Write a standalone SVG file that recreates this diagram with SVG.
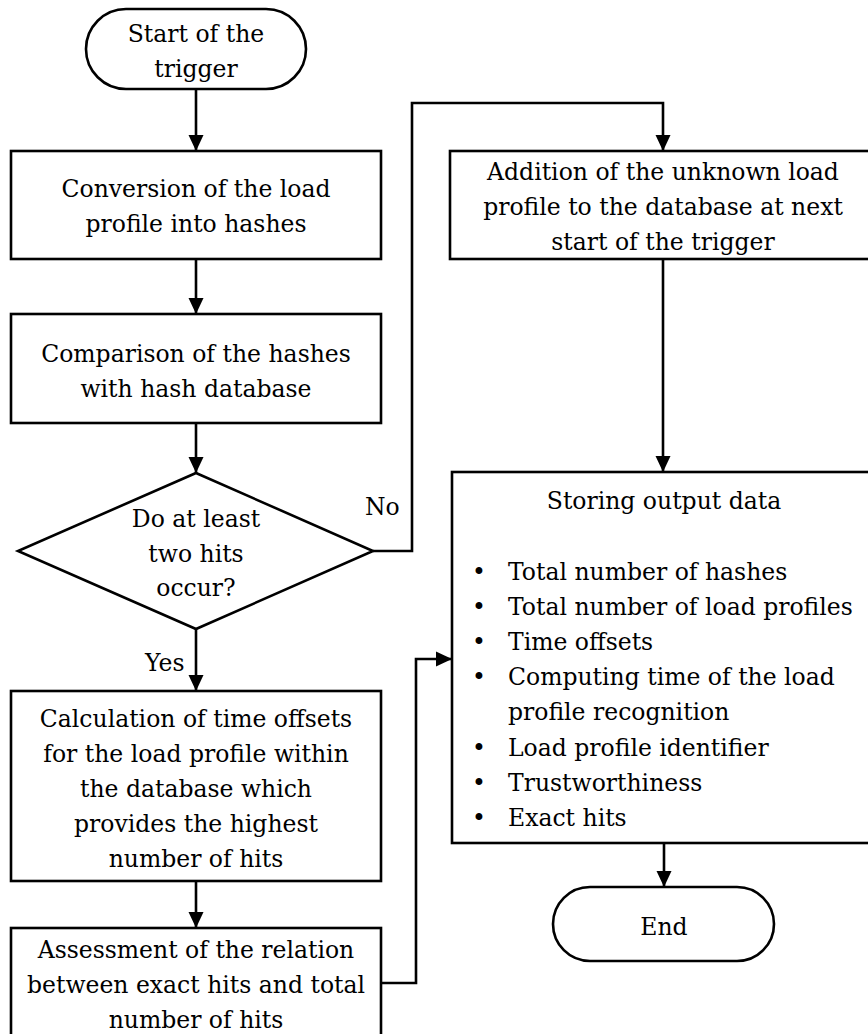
<svg xmlns="http://www.w3.org/2000/svg" width="868" height="1034" viewBox="0 0 868 1034" font-family="DejaVu Serif, serif" font-size="23.5">
<style>
.box{fill:#fff;stroke:#000;stroke-width:2.6}
.ln{fill:none;stroke:#000;stroke-width:2.6}
.c{text-anchor:middle}
</style>
<defs>
<marker id="ah" markerUnits="userSpaceOnUse" markerWidth="16" markerHeight="16" viewBox="0 0 16 16" refX="16" refY="8" orient="auto">
<path d="M0,0.5 L16,8 L0,15.5 Z" fill="#000"/>
</marker>
</defs>
<g id="connectors">
<path class="ln" d="M196,89 V151" marker-end="url(#ah)"/>
<path class="ln" d="M196,259 V314" marker-end="url(#ah)"/>
<path class="ln" d="M196,423 V473" marker-end="url(#ah)"/>
<path class="ln" d="M373,551 H412 V103 H663 V151" marker-end="url(#ah)"/>
<path class="ln" d="M663,259 V472" marker-end="url(#ah)"/>
<path class="ln" d="M196,629 V691" marker-end="url(#ah)"/>
<path class="ln" d="M196,881 V928" marker-end="url(#ah)"/>
<path class="ln" d="M381,983 H416 V659 H452" marker-end="url(#ah)"/>
<path class="ln" d="M664,843 V887" marker-end="url(#ah)"/>
<text x="365" y="515">No</text>
<text x="145" y="671">Yes</text>
</g>
<g id="start">
<rect class="box" x="86" y="9" width="220" height="80" rx="40"/>
<text class="c" x="196" y="42">Start of the</text>
<text class="c" x="196" y="77">trigger</text>
</g>
<g id="conversion">
<rect class="box" x="11" y="151" width="370" height="108"/>
<text class="c" x="196" y="197">Conversion of the load</text>
<text class="c" x="196" y="232">profile into hashes</text>
</g>
<g id="comparison">
<rect class="box" x="11" y="314" width="370" height="109"/>
<text class="c" x="196" y="362">Comparison of the hashes</text>
<text class="c" x="196" y="397">with hash database</text>
</g>
<g id="decision">
<polygon class="box" points="196,473 373,551 196,629 18,551"/>
<text class="c" x="196" y="527">Do at least</text>
<text class="c" x="196" y="562">two hits</text>
<text class="c" x="196" y="596">occur?</text>
</g>
<g id="addition">
<rect class="box" x="450" y="151" width="430" height="108"/>
<text class="c" x="663" y="180">Addition of the unknown load</text>
<text class="c" x="663" y="215">profile to the database at next</text>
<text class="c" x="663" y="250">start of the trigger</text>
</g>
<g id="calculation">
<rect class="box" x="11" y="691" width="370" height="190"/>
<text class="c" x="196" y="727">Calculation of time offsets</text>
<text class="c" x="196" y="762">for the load profile within</text>
<text class="c" x="196" y="797">the database which</text>
<text class="c" x="196" y="832">provides the highest</text>
<text class="c" x="196" y="867">number of hits</text>
</g>
<g id="assessment">
<rect class="box" x="11" y="928" width="370" height="120"/>
<text class="c" x="196" y="958">Assessment of the relation</text>
<text class="c" x="196" y="993">between exact hits and total</text>
<text class="c" x="196" y="1028">number of hits</text>
</g>
<g id="storing">
<rect class="box" x="452" y="472" width="430" height="371"/>
<text class="c" x="664" y="509">Storing output data</text>
<text class="c" x="479" y="580">•</text><text x="508" y="580">Total number of hashes</text>
<text class="c" x="479" y="615">•</text><text x="508" y="615">Total number of load profiles</text>
<text class="c" x="479" y="650">•</text><text x="508" y="650">Time offsets</text>
<text class="c" x="479" y="685">•</text><text x="508" y="685">Computing time of the load</text>
<text x="508" y="720">profile recognition</text>
<text class="c" x="479" y="756">•</text><text x="508" y="756">Load profile identifier</text>
<text class="c" x="479" y="791">•</text><text x="508" y="791">Trustworthiness</text>
<text class="c" x="479" y="826">•</text><text x="508" y="826">Exact hits</text>
</g>
<g id="end">
<rect class="box" x="553" y="887" width="221" height="74" rx="37"/>
<text class="c" x="664" y="935">End</text>
</g>
</svg>
